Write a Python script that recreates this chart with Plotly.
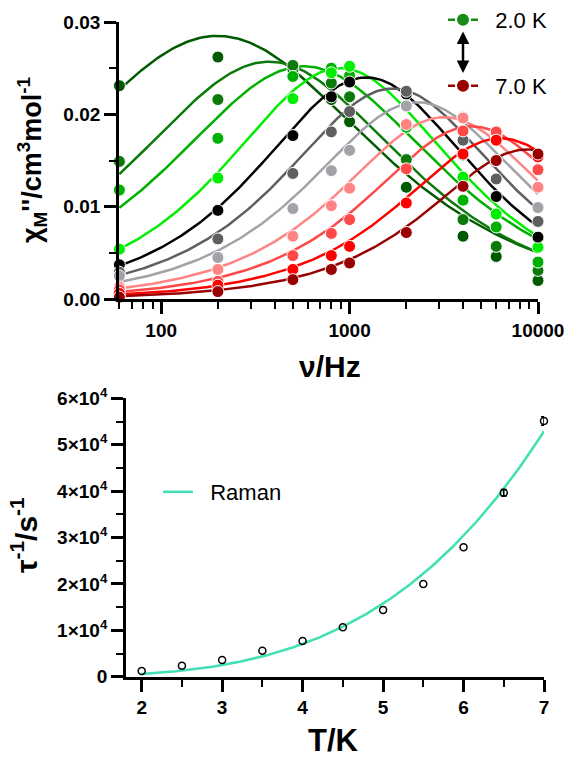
import numpy as np
import plotly.graph_objects as go

# ---------------- data (top: chi'' vs frequency) ----------------
freq_hz = [60, 200, 500, 800, 1000, 2000, 4000, 6000, 10000]
temps_k = [2.0, 2.5, 3.0, 3.5, 4.0, 4.5, 5.0, 5.5, 6.0, 6.5, 7.0]

chi_2_0 = [0.0231, 0.0262, 0.0249, 0.0216, 0.0192, 0.0121, 0.0068, 0.0046, 0.0020]
chi_2_5 = [0.0149, 0.0216, 0.0253, 0.0234, 0.0219, 0.0151, 0.0086, 0.0057, 0.0031]
chi_3_0 = [0.0118, 0.0174, 0.0241, 0.0250, 0.0242, 0.0186, 0.0107, 0.0078, 0.0040]
chi_3_5 = [0.0054, 0.0131, 0.0217, 0.0245, 0.0252, 0.0209, 0.0132, 0.0092, 0.0056]
chi_4_0 = [0.0037, 0.0096, 0.0177, 0.0219, 0.0235, 0.0222, 0.0156, 0.0111, 0.0067]
chi_4_5 = [0.0029, 0.0065, 0.0136, 0.0181, 0.0203, 0.0225, 0.0172, 0.0130, 0.0084]
chi_5_0 = [0.0025, 0.0045, 0.0098, 0.0139, 0.0161, 0.0209, 0.0197, 0.0150, 0.0099]
chi_5_5 = [0.0013, 0.0032, 0.0068, 0.0101, 0.0120, 0.0189, 0.0196, 0.0178, 0.0121]
chi_6_0 = [0.0010, 0.0019, 0.0047, 0.0071, 0.0086, 0.0141, 0.0182, 0.0181, 0.0140]
chi_6_5 = [0.0006, 0.0015, 0.0032, 0.0047, 0.0057, 0.0104, 0.0157, 0.0172, 0.0154]
chi_7_0 = [0.0002, 0.0008, 0.0021, 0.0032, 0.0039, 0.0072, 0.0122, 0.0150, 0.0157]
chi_series = [chi_2_0, chi_2_5, chi_3_0, chi_3_5, chi_4_0, chi_4_5,
              chi_5_0, chi_5_5, chi_6_0, chi_6_5, chi_7_0]

series_colors = ["#005a00", "#0b7a0b", "#00b000", "#00ee00", "#000000", "#5f5f5f",
                 "#a2a2a8", "#ff8585", "#ff4848", "#ff0000", "#990000"]

# generalized Debye fit parameters (peak height, alpha); relaxation rate from bottom panel
fit_peak = [0.0285, 0.0257, 0.0252, 0.0250, 0.0240, 0.0228, 0.0213, 0.0197, 0.0187, 0.0174, 0.0162]
fit_alpha = [0.30, 0.22, 0.21, 0.125, 0.10, 0.10, 0.10, 0.08, 0.07, 0.06, 0.05]

# ---------------- data (bottom: tau^-1 vs T) ----------------
tau_inv = [1250, 2350, 3600, 5600, 7700, 10650, 14400, 20000, 27900, 39650, 55100]
err_temps = [6.5, 7.0]
err_tau_inv = [39650, 55100]
err_size = [700, 900]
raman_C = 48.0
raman_n = 3.6

legend_labels = ["2.0 K", "7.0 K"]
legend_colors = ["#168c16", "#990000"]
y2_tickvals = [0, 10000, 20000, 30000, 40000, 50000, 60000]
y2_ticktext = ["0"] + ["%d\u00d710<sup>4</sup>" % k for k in range(1, 7)]


def debye_chi2(nu, nu_peak, peak, alpha):
    u = (nu / nu_peak) ** (1 - alpha)
    s = np.sin(alpha * np.pi / 2)
    return peak * 2 * u * (1 + s) / (1 + 2 * u * s + u ** 2)


fig = go.Figure()
nu_grid = np.logspace(np.log10(60), 4, 200)

for i, T in enumerate(temps_k):
    nu_peak = tau_inv[i] / (2 * np.pi)
    fig.add_trace(go.Scatter(
        x=nu_grid, y=debye_chi2(nu_grid, nu_peak, fit_peak[i], fit_alpha[i]),
        mode="lines", line=dict(color=series_colors[i], width=2.5),
        showlegend=False, xaxis="x", yaxis="y", cliponaxis=False, hoverinfo="skip"))

for i, T in enumerate(temps_k):
    fig.add_trace(go.Scatter(
        x=freq_hz, y=chi_series[i], mode="markers",
        marker=dict(color=series_colors[i], size=12, line=dict(color="white", width=1)),
        showlegend=False, xaxis="x", yaxis="y", cliponaxis=False, name="%.1f K" % T))

# legend entries for top panel
for j, lab in enumerate(legend_labels):
    fig.add_trace(go.Scatter(
        x=[None], y=[None], mode="lines+markers", name="\u00a0\u00a0" + lab,
        line=dict(color=legend_colors[j], width=2.5, dash="7px,16px"),
        marker=dict(color=legend_colors[j], size=12),
        legend="legend" if j == 0 else "legend2", xaxis="x", yaxis="y"))

# bottom panel
T_grid = np.linspace(2, 7, 200)
fig.add_trace(go.Scatter(
    x=T_grid, y=raman_C * T_grid ** raman_n, mode="lines", name="\u00a0\u00a0Raman",
    line=dict(color="#40e0b4", width=2.5), legend="legend3",
    xaxis="x2", yaxis="y2", cliponaxis=False))
fig.add_trace(go.Scatter(
    x=err_temps, y=err_tau_inv, mode="markers", showlegend=False,
    marker=dict(size=1, color="rgba(0,0,0,0)"),
    error_y=dict(type="data", array=err_size, visible=True, color="black",
                 thickness=1.5, width=3),
    xaxis="x2", yaxis="y2", cliponaxis=False))
fig.add_trace(go.Scatter(
    x=temps_k, y=tau_inv, mode="markers", showlegend=False,
    marker=dict(symbol="circle-open", size=7, color="black", line=dict(width=1.5)),
    xaxis="x2", yaxis="y2", cliponaxis=False))

W, H = 570, 758
font_fam = "Liberation Sans, Arial, sans-serif"
tickfont = dict(family=font_fam, size=19, color="black", weight="bold")
axis_common = dict(showline=True, linecolor="black", linewidth=2.8, ticks="outside",
                   tickwidth=2.5, ticklen=12, tickcolor="black", showgrid=False,
                   zeroline=False, tickfont=tickfont, mirror=False, automargin=False)

minor_freq = [60, 70, 80, 90] + [k * 100 for k in range(2, 10)] + [k * 1000 for k in range(2, 10)]

fig.update_layout(
    width=W, height=H, autosize=False,
    margin=dict(l=0, r=0, t=0, b=0, autoexpand=False),
    paper_bgcolor="white", plot_bgcolor="white",
    xaxis=dict(domain=[119 / W, 538 / W], type="log", range=[np.log10(60) - 0.002, 4],
               tickmode="array", tickvals=[100, 1000, 10000], ticktext=["100", "1000", "10000"],
               minor=dict(tickmode="array", tickvals=minor_freq, ticks="outside", ticklen=7,
                          tickwidth=2, tickcolor="black"),
               anchor="y", **axis_common),
    yaxis=dict(domain=[(H - 299) / H, (H - 22) / H], range=[0, 0.03], tickmode="linear",
               tick0=0, dtick=0.01, tickformat=".2f",
               minor=dict(dtick=0.005, ticks="outside", ticklen=7, tickwidth=2, tickcolor="black"),
               anchor="x", **axis_common),
    xaxis2=dict(domain=[126 / W, 544 / W], range=[1.805, 7], tickmode="linear", tick0=2, dtick=1,
                minor=dict(dtick=0.5, tick0=2, ticks="outside", ticklen=7, tickwidth=2, tickcolor="black"),
                anchor="y2", **axis_common),
    yaxis2=dict(domain=[(H - 676.7) / H, (H - 398.3) / H], range=[0, 60000], tickmode="array",
                tickvals=y2_tickvals, ticktext=y2_ticktext,
                minor=dict(dtick=5000, ticks="outside", ticklen=7, tickwidth=2, tickcolor="black"),
                anchor="x2", **axis_common),
    legend=dict(x=443 / W, y=(H - 20) / H, xanchor="left", yanchor="middle",
                bgcolor="rgba(0,0,0,0)", font=dict(family=font_fam, size=22, color="black")),
    legend2=dict(x=443 / W, y=(H - 86) / H, xanchor="left", yanchor="middle",
                 bgcolor="rgba(0,0,0,0)", font=dict(family=font_fam, size=22, color="black")),
    legend3=dict(x=158 / W, y=(H - 492) / H, xanchor="left", yanchor="middle",
                 bgcolor="rgba(0,0,0,0)", font=dict(family=font_fam, size=22, color="black")),
    showlegend=True,
)

title_font = dict(family=font_fam, size=30, color="black", weight="bold")
fig.add_annotation(text="\u03c7<sub>M</sub>''/cm<sup>3</sup>mol<sup>-1</sup>", xref="paper", yref="paper",
                   x=32 / W, y=(H - 160) / H, textangle=-90, showarrow=False,
                   font=dict(family=font_fam, size=27, color="black", weight="bold"),
                   xanchor="center", yanchor="middle")
fig.add_annotation(text="\u03bd/Hz", xref="paper", yref="paper", x=330 / W, y=(H - 366) / H,
                   showarrow=False, font=title_font, xanchor="center", yanchor="middle")
fig.add_annotation(text="\u03c4<sup>-1</sup>/s<sup>-1</sup>", xref="paper", yref="paper",
                   x=24 / W, y=(H - 535) / H, textangle=-90, showarrow=False, font=title_font,
                   xanchor="center", yanchor="middle")
fig.add_annotation(text="T/K", xref="paper", yref="paper", x=333 / W, y=(H - 740) / H,
                   showarrow=False, font=dict(family=font_fam, size=31, color="black", weight="bold"),
                   xanchor="center", yanchor="middle")
# double-headed arrow between legend entries
fig.add_annotation(text="", xref="paper", yref="paper", x=463 / W, y=(H - 73) / H,
                   ax=0, ay=-43, showarrow=True, arrowhead=2, startarrowhead=2,
                   arrowside="end+start", arrowwidth=2.5, arrowsize=1, startarrowsize=1,
                   arrowcolor="black")

fig.write_html("out.html", config={"displayModeBar": False},
               post_script="document.body.style.margin='0';")
